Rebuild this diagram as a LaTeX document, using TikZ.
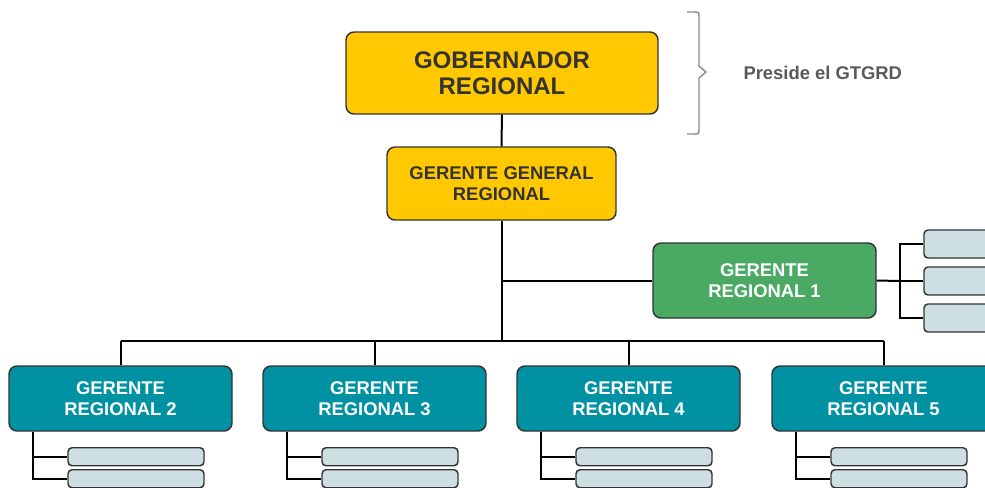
\documentclass[tikz,border=0pt]{standalone}
\usepackage{fontspec}
\setmainfont{Liberation Sans}
\usetikzlibrary{calc}

\definecolor{amarillo}{RGB}{255,200,0}
\definecolor{verde}{RGB}{74,170,100}
\definecolor{turquesa}{RGB}{0,145,162}
\definecolor{celeste}{RGB}{205,223,226}
\definecolor{borde}{RGB}{51,51,51}
\definecolor{gris}{RGB}{140,140,140}
\definecolor{textogris}{RGB}{89,89,89}

\tikzset{every picture/.style={line width=0.75pt}}
\tikzset{
  caja/.style={draw=borde, line width=1.1pt, rounded corners=6pt, align=center, inner sep=0pt,
               font=\bfseries\fontsize{13.8}{15.75}\selectfont},
  cajaamarilla/.style={caja, fill=amarillo, text=borde},
  cajaverde/.style={caja, fill=verde, text=white, minimum width=167.25pt, minimum height=56.25pt},
  cajaturquesa/.style={caja, fill=turquesa, text=white, minimum width=167.25pt, minimum height=48.75pt},
  subcaja/.style={draw=borde, line width=1.1pt, rounded corners=3pt, fill=celeste, minimum width=102pt, inner sep=0pt},
  enlace/.style={line width=1.5pt, black},
}

\begin{document}
\begin{tikzpicture}[x=0.75pt,y=0.75pt,yscale=-1,xscale=1]
    \useasboundingbox (0,0) rectangle (985,487);
    \clip (0,0) rectangle (985,487);
    % Gobernador y gerente general
    \node [cajaamarilla, minimum width=234pt, minimum height=61.5pt, font=\bfseries\fontsize{18}{19.5}\selectfont] (gob) at (502,73) {GOBERNADOR\\REGIONAL};
    \node [cajaamarilla, minimum width=171.75pt, minimum height=54.75pt] (ggr) at (501.5,183.5) {GERENTE GENERAL\\REGIONAL};
    % Text Node
    \node [anchor=west, inner sep=0pt, text=textogris, font=\bfseries\fontsize{13.8}{15}\selectfont] (preside) at (743,73) {Preside el GTGRD};
    % Llave
    \draw [gris, line width=1.1pt] (687,12) -- (694,12) .. controls (699,12) .. (699,17) -- (699,66) -- (706,72) -- (699,78) -- (699,129) .. controls (699,134) .. (694,134) -- (687,134);
    % Gerente regional 1
    \node [cajaverde] (g1) at (764.5,280.5) {GERENTE\\REGIONAL 1};
    \node [subcaja, minimum height=21pt] (s1a) at (992,244) {};
    \node [subcaja, minimum height=21pt] (s1b) at (992,281) {};
    \node [subcaja, minimum height=21pt] (s1c) at (992,318) {};
    \coordinate (j1) at (900,281);
    \coordinate (bus) at (501.5,341);
    % Conectores
    \draw [enlace] (gob) -- (ggr);
    \draw [enlace] (ggr.south) -- (bus);
    \draw [enlace] (ggr.south |- g1.west) -- (g1.west);
    \draw [enlace] (g1.east) -- (j1);
    \draw [enlace] (s1a.west) -| (j1) |- (s1c.west);
    \draw [enlace] (j1) -- (s1b.west);
    % Gerentes regionales 2 a 5
    \foreach \i/\x in {2/120.5,3/374.5,4/628.5,5/883.5}{
      \node [cajaturquesa] (g\i) at (\x,398.5) {GERENTE\\REGIONAL \i};
      \node [subcaja, minimum height=13.5pt, anchor=west] (s\i a) at ($(g\i.south west)+(59,25)$) {};
      \node [subcaja, minimum height=13.5pt, anchor=west] (s\i b) at ($(g\i.south west)+(59,47)$) {};
      \draw [enlace] (g\i.north) -- (g\i.north |- bus);
      \draw [enlace] ($(g\i.south west)+(25,0)$) |- (s\i b.west);
      \draw [enlace] (s\i a.west) -- ++(-34,0);
    }
    \draw [enlace] (g2.north |- bus) -- (g5.north |- bus);
\end{tikzpicture}
\end{document}
